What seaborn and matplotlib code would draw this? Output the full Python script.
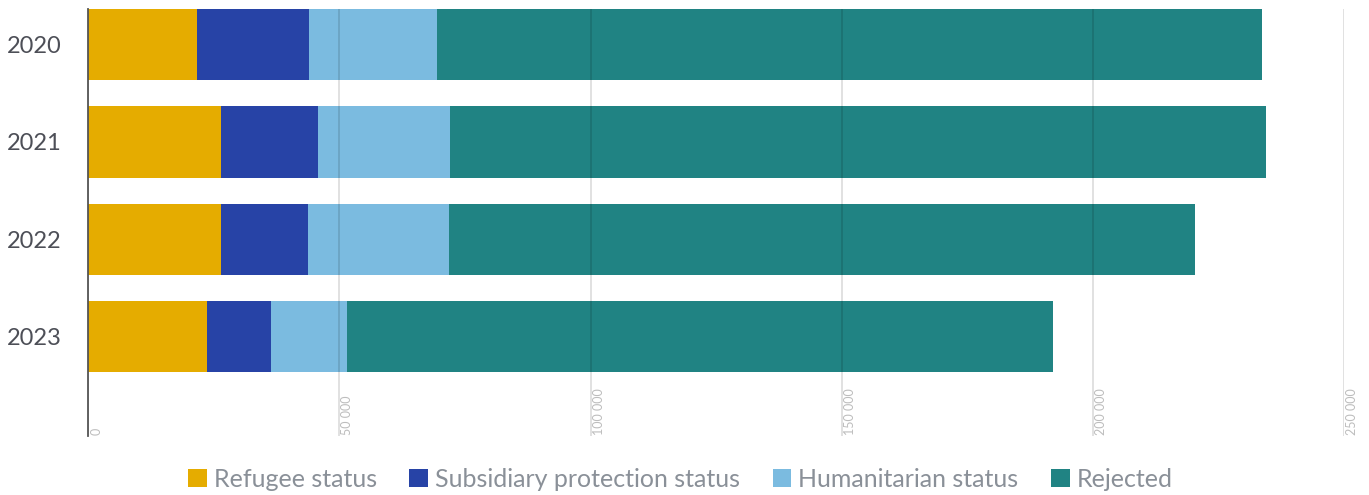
import pandas as pd
import seaborn as sns
from matplotlib import pyplot as plt
from matplotlib.patches import Patch
from matplotlib.transforms import offset_copy
import numpy as np

years = ['2020', '2021', '2022', '2023']
refugee = [21600, 26400, 26400, 23600]
subsidiary = [22400, 19400, 17400, 12800]
humanitarian = [25500, 26200, 28000, 15100]
rejected = [164100, 162400, 148500, 140500]
series_names = ['Refugee status', 'Subsidiary protection status', 'Humanitarian status', 'Rejected']
colors = ['#E5AC00', '#2743A6', '#7BBBE0', '#208383']
xticks = [0, 50000, 100000, 150000, 200000, 250000]

df = pd.DataFrame({'year': years, 'Refugee status': refugee,
                   'Subsidiary protection status': subsidiary,
                   'Humanitarian status': humanitarian, 'Rejected': rejected})
cum = df[series_names].cumsum(axis=1)

sns.set_style('white')
plt.rcParams['font.family'] = ['Lato', 'DejaVu Sans']

fig = plt.figure(figsize=(13.69, 4.95), dpi=100)
ax = fig.add_axes([0.0645, 0.119, 0.9173, 0.8628])

# stacked bars: draw cumulative totals from the longest down
for name, col in reversed(list(zip(series_names, colors))):
    sns.barplot(x=cum[name], y=df['year'], color=col, orient='h', width=0.73,
                saturation=1, linewidth=0, ax=ax, zorder=2)

ax.set_xlim(0, 250000)
ax.set_ylim(4.02, -0.365)
ax.set_xticks(xticks)
ax.set_xticklabels([f"{v:,}".replace(',', ' ') for v in xticks], rotation=90,
                   va='bottom', ha='left', fontsize=9, color='#bdbdbd')
ax.tick_params(axis='x', length=0, pad=0)
for lab in ax.get_xticklabels():
    lab.set_transform(offset_copy(lab.get_transform(), fig=fig, x=2, y=1, units='dots'))
ax.tick_params(axis='y', length=0, labelsize=17, labelcolor='#4d4f57', pad=19)
ax.set_xlabel('')
ax.set_ylabel('')

ax.grid(axis='x', color='black', alpha=0.13, linewidth=1.3, zorder=5)
ax.set_axisbelow(False)
for s in ['top', 'right', 'bottom']:
    ax.spines[s].set_visible(False)
ax.spines['left'].set_color('#555555')
ax.spines['left'].set_linewidth(1.3)
ax.spines['left'].set_zorder(6)

handles = [Patch(facecolor=c, edgecolor='none') for c in colors]
fig.legend(handles, series_names, loc='center', bbox_to_anchor=(0.497, 0.032), ncol=4,
           frameon=False, fontsize=18, handlelength=0.75, handleheight=0.75,
           handletextpad=0.28, columnspacing=1.3, labelcolor='#8a9098')

fig.savefig('out.png', dpi=100)
